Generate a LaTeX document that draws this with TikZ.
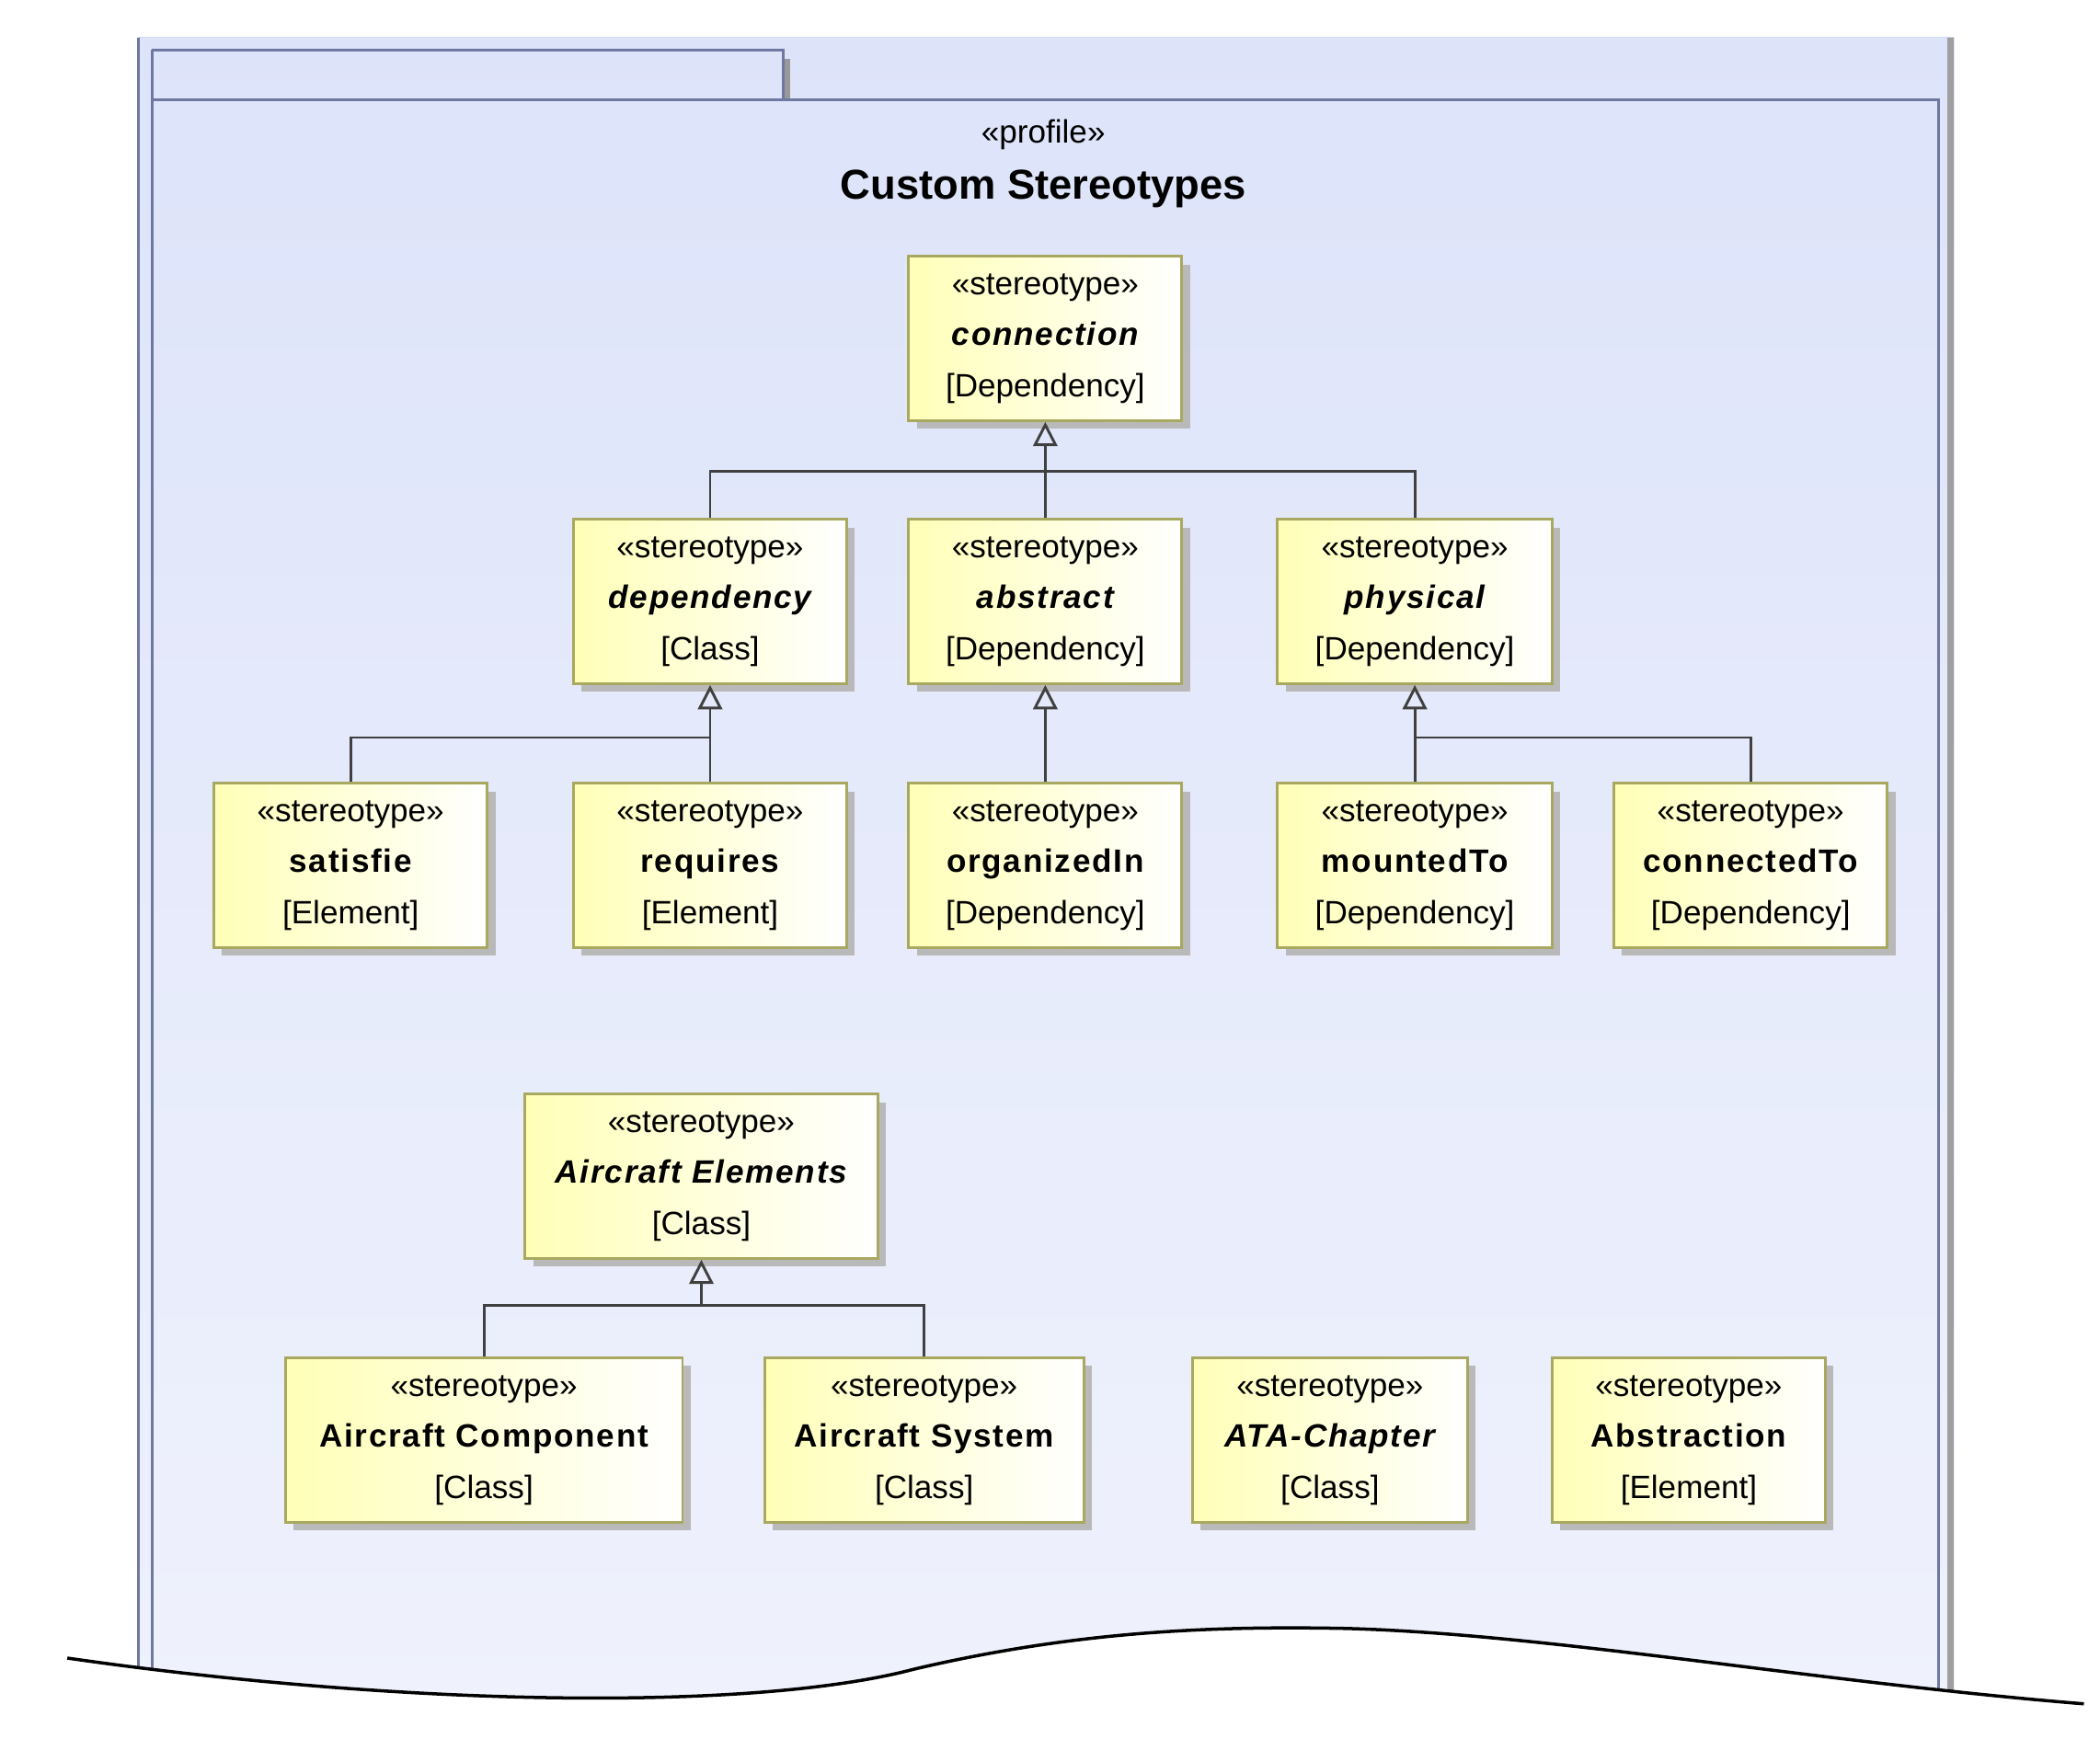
\documentclass[tikz,border=0pt]{standalone}
\usepackage{fontspec}
\setmainfont{Liberation Sans}
\usetikzlibrary{shadows,arrows.meta}
\definecolor{frm}{HTML}{6E78A0}
\definecolor{bord}{HTML}{A8A860}
\begin{document}
\begin{tikzpicture}[x=1pt,y=-1pt,
 box/.style={draw=bord,line width=2pt,left color=yellow!28,right color=white,
   drop shadow={shadow xshift=6pt,shadow yshift=-6pt,fill=gray!55,opacity=1},
   minimum height=122pt,align=center,font=\fontsize{24}{38}\selectfont,inner sep=0pt},
 gen/.style={line width=2pt,draw=black!75,-{Triangle[open,length=18pt,width=18pt,line width=2pt]}},
 bus/.style={line width=2pt,draw=black!75}]
\useasboundingbox (0,0) rectangle (1560,1292);
\shade[left color={rgb,255:red,210;green,218;blue,248},right color={rgb,255:red,234;green,238;blue,252},shading angle=0] (103,28) rectangle (1452,1260);
\fill[white,opacity=.25] (103,28) rectangle (1452,1260);
\draw[frm,line width=2pt] (103,28) -- (103,1260);
\draw[frm,line width=2pt] (113,37) -- (113,1260);
\draw[gray!80,line width=4pt] (585,44) -- (585,74);
\draw[frm,line width=2pt] (113,37) -- (582,37) -- (582,74);
\draw[frm,line width=2pt] (113,74) -- (1440,74) -- (1440,1260);
\draw[gray!75,line width=5pt] (1449,28) -- (1449,1260);
\node (p1) at (775,100) {\fontsize{24}{28}\selectfont «profile»};
\node (p2) at (775,140) {\fontsize{31}{36}\selectfont\bfseries Custom Stereotypes};
\newcommand\st[3]{«stereotype»\\{\bfseries\addfontfeatures{LetterSpace=5}#1#2}\\{}{[}#3{]}}
\node[box,minimum width=203pt] (con) at (776.5,251.5) {\st{\itshape}{connection}{Dependency}};
\node[box,minimum width=203pt] (dep) at (527.5,447) {\st{\itshape}{dependency}{Class}};
\node[box,minimum width=203pt] (abs) at (776.5,447) {\st{\itshape}{abstract}{Dependency}};
\node[box,minimum width=204pt] (phy) at (1051,447) {\st{\itshape}{physical}{Dependency}};
\node[box,minimum width=203pt] (sat) at (260.5,643) {\st{}{satisfie}{Element}};
\node[box,minimum width=203pt] (req) at (527.5,643) {\st{}{requires}{Element}};
\node[box,minimum width=203pt] (org) at (776.5,643) {\st{}{organizedIn}{Dependency}};
\node[box,minimum width=204pt] (mou) at (1051,643) {\st{}{mountedTo}{Dependency}};
\node[box,minimum width=203pt] (cto) at (1300.5,643) {\st{}{connectedTo}{Dependency}};
\node[box,minimum width=262pt] (ael) at (521,874) {\st{\itshape}{Aircraft Elements}{Class}};
\node[box,minimum width=295pt] (aco) at (359.5,1070) {\st{}{Aircraft Component}{Class}};
\node[box,minimum width=237pt] (asy) at (686.5,1070) {\st{}{Aircraft System}{Class}};
\node[box,minimum width=204pt] (ata) at (988,1070) {\st{\itshape}{ATA-Chapter}{Class}};
\node[box,minimum width=203pt] (abn) at (1254.5,1070) {\st{}{Abstraction}{Element}};
% connection tree
\coordinate (b1) at (con.south|-0,350);
\draw[bus] (dep.north) |- (phy.north|-b1) -- (phy.north);
\draw[bus] (abs.north) -- (b1);
\draw[gen] (b1) -- (con.south);
% dependency tree
\coordinate (b2) at (dep.south|-0,548);
\draw[bus] (sat.north) |- (b2) -- (req.north);
\draw[gen] (b2) -- (dep.south);
\draw[gen] (org.north) -- (abs.south);
\coordinate (b3) at (phy.south|-0,548);
\draw[bus] (mou.north) -- (b3) -| (cto.north);
\draw[gen] (b3) -- (phy.south);
\coordinate (b4) at (ael.south|-0,970);
\draw[bus] (aco.north) |- (asy.north|-b4) -- (asy.north);
\draw[gen] (b4) -- (ael.south);
% torn edge
\fill[white] (0,1228) -- (50,1232) .. controls (300,1268) and (560,1272) .. (680,1240) .. controls (800,1212) and (900,1208) .. (1000,1210) .. controls (1150,1214) and (1350,1250) .. (1548,1266) -- (1560,1266) -- (1560,1292) -- (0,1292) -- cycle;
\draw[line width=2.4pt] (50,1232) .. controls (300,1268) and (560,1272) .. (680,1240) .. controls (800,1212) and (900,1208) .. (1000,1210) .. controls (1150,1214) and (1350,1250) .. (1548,1266);
\end{tikzpicture}
\end{document}
